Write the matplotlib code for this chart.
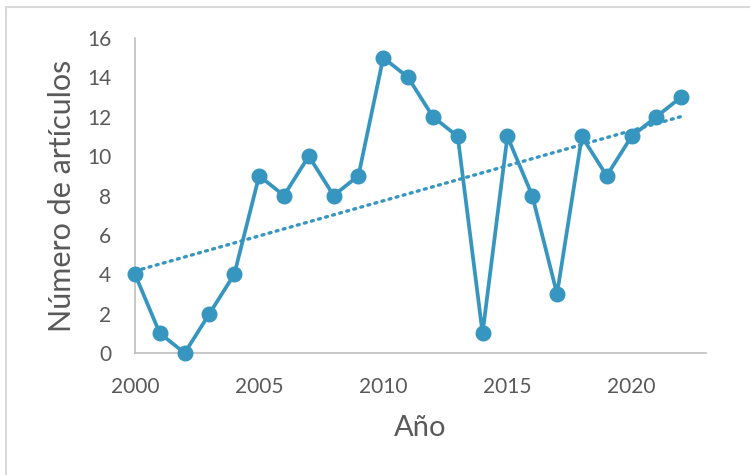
import numpy as np
import matplotlib
matplotlib.use("Agg")
import matplotlib.pyplot as plt
from matplotlib.patches import Rectangle

# Articles published per year
years = [2000, 2001, 2002, 2003, 2004, 2005, 2006, 2007, 2008, 2009, 2010, 2011,
         2012, 2013, 2014, 2015, 2016, 2017, 2018, 2019, 2020, 2021, 2022]
articles = [4, 1, 0, 2, 4, 9, 8, 10, 8, 9, 15, 14,
            12, 11, 1, 11, 8, 3, 11, 9, 11, 12, 13]
x_ticks = [2000, 2005, 2010, 2015, 2020]
y_ticks = [0, 2, 4, 6, 8, 10, 12, 14, 16]

color = "#3796C0"
text_color = "#595959"
axis_color = "#BFBFBF"

plt.rcParams["font.family"] = ["Lato", "DejaVu Sans"]

W, H = 750, 475
fig = plt.figure(figsize=(W / 100, H / 100), dpi=100)

# light frame around the chart area
fig.patches.append(Rectangle((6 / W, -0.1), 1.2, 1.1 - 7 / H,
                             transform=fig.transFigure, fill=False,
                             edgecolor="#D9D9D9", linewidth=1.5))

ax = fig.add_axes([135 / W, 1 - 353 / H, (706 - 135) / W, (353 - 38) / H])

ax.plot(years, articles, color=color, linewidth=2.7, marker="o",
        markersize=10.5, zorder=3, clip_on=False)

# linear trend line
coef = np.polyfit(years, articles, 1)
trend = np.polyval(coef, years)
ax.plot(years, trend, color=color, linewidth=2.4, linestyle=(0, (0.6, 1.6)),
        dash_capstyle="round", zorder=2)

ax.set_xlim(2000, 2023)
ax.set_ylim(0, 16)
ax.set_xticks(x_ticks)
ax.set_yticks(y_ticks)

for side in ("top", "right"):
    ax.spines[side].set_visible(False)
for side in ("left", "bottom"):
    ax.spines[side].set_color(axis_color)
    ax.spines[side].set_linewidth(1.2)

ax.tick_params(axis="both", length=0, labelsize=15, colors=text_color)
ax.tick_params(axis="y", pad=17)
ax.tick_params(axis="x", pad=17)

ax.set_xlabel("Año", fontsize=21, color=text_color, labelpad=13)
ax.set_ylabel("Número de artículos", fontsize=22, color=text_color, labelpad=8)

fig.savefig("out.png", dpi=100)
